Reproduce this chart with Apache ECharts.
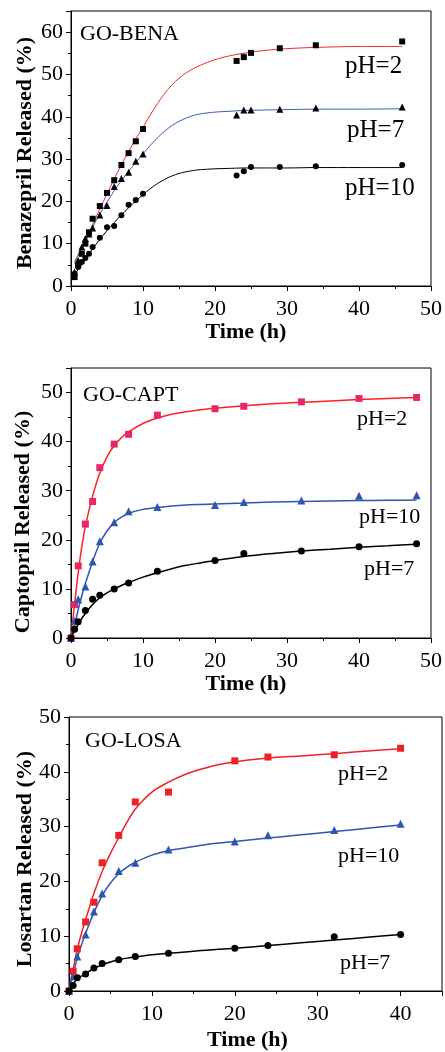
<!DOCTYPE html>
<html>
<head>
<meta charset="utf-8">
<script src="https://cdn.jsdelivr.net/npm/echarts@6/dist/echarts.min.js"></script>
<style>
html,body{margin:0;padding:0;background:#fff;}
#chart{width:445px;height:1052px;}
</style>
</head>
<body>
<div id="chart"></div>
<script>
// ---------- Panel 1: GO-BENA ----------
const benaTime = [0.5, 1, 1.5, 2, 2.5, 3, 4, 5, 6, 7, 8, 9, 10, 23, 24, 25, 29, 34, 46];
const benaPH2  = [2.1, 5.0, 7.6, 10.0, 12.7, 15.9, 18.9, 22.0, 25.0, 28.6, 31.4, 34.2, 37.1, 53.2, 54.1, 55.1, 56.2, 56.9, 57.8];
const benaPH7  = [3.3, 6.0, 9.2, 11.2, 12.3, 13.7, 16.8, 19.0, 23.5, 25.4, 26.9, 29.5, 31.2, 40.4, 41.6, 41.6, 41.8, 42.1, 42.3];
const benaPH10 = [2.9, 4.5, 5.7, 6.6, 7.6, 9.2, 11.4, 13.9, 14.2, 16.7, 19.2, 20.3, 21.8, 26.1, 27.1, 28.1, 28.1, 28.3, 28.6];
const benaFitTime = [0.5, 1, 2, 3, 4, 5, 6, 7, 8, 9, 10, 11, 12, 13, 14, 15, 16, 17, 18, 20, 22, 24, 27, 30, 34, 40, 46];
const benaFitPH2  = [5.4, 7.2, 10.8, 14.5, 18.2, 21.8, 25.3, 28.7, 31.8, 34.8, 37.5, 40.4, 43.1, 45.5, 47.5, 49.1, 50.4, 51.4, 52.2, 53.5, 54.4, 55.0, 55.7, 56.1, 56.4, 56.6, 56.6];
const benaFitPH7  = [5.8, 7.4, 10.6, 13.9, 17.0, 19.8, 22.5, 24.9, 27.1, 29.2, 31.2, 33.2, 35.0, 36.6, 37.9, 38.9, 39.7, 40.3, 40.7, 41.1, 41.3, 41.5, 41.6, 41.7, 41.8, 41.8, 41.9];
const benaFitPH10 = [2.6, 3.9, 6.3, 8.8, 11.0, 13.1, 15.0, 16.8, 18.5, 20.1, 21.6, 23.0, 24.2, 25.2, 26.0, 26.6, 27.0, 27.3, 27.5, 27.7, 27.8, 27.9, 27.9, 27.9, 28.0, 28.0, 28.0];

// ---------- Panel 2: GO-CAPT ----------
const captTime = [0, 0.5, 1, 2, 3, 4, 6, 8, 12, 20, 24, 32, 40, 48];
const captPH2  = [0, 6.8, 14.7, 23.2, 27.8, 34.7, 39.5, 41.5, 45.4, 46.7, 47.2, 48.1, 48.8, 49.0];
const captPH10 = [0, 3.5, 7.9, 10.5, 15.6, 19.7, 23.6, 25.8, 26.7, 27.1, 27.7, 28.0, 29.0, 29.1];
const captPH7  = [0, 1.8, 3.3, 5.6, 7.9, 8.7, 10.0, 11.2, 13.6, 15.8, 17.2, 17.7, 18.6, 19.2];
const captFitTime = [0, 0.5, 1, 1.5, 2, 3, 4, 5, 6, 7, 8, 10, 12, 14, 16, 18, 20, 24, 28, 32, 36, 40, 44, 48];
const captFitPH2  = [0, 7.0, 13.3, 18.6, 22.8, 28.9, 33.6, 36.9, 39.2, 40.8, 42.0, 43.7, 44.8, 45.6, 46.1, 46.5, 46.8, 47.3, 47.7, 48.0, 48.3, 48.6, 48.8, 49.0];
const captFitPH10 = [0, 2.6, 5.8, 8.6, 11.1, 15.6, 19.3, 21.8, 23.5, 24.6, 25.4, 26.2, 26.6, 26.9, 27.1, 27.2, 27.3, 27.5, 27.7, 27.8, 27.9, 28.0, 28.05, 28.1];
const captFitPH7  = [0, 1.5, 2.8, 4.0, 5.0, 6.8, 8.2, 9.2, 10.0, 10.7, 11.3, 12.4, 13.3, 14.1, 14.8, 15.3, 15.8, 16.6, 17.2, 17.7, 18.1, 18.5, 18.8, 19.1];

// ---------- Panel 3: GO-LOSA ----------
const losaTime = [0, 0.5, 1, 2, 3, 4, 6, 8, 12, 20, 24, 32, 40];
const losaPH2  = [0, 3.6, 7.7, 12.6, 16.2, 23.4, 28.4, 34.5, 36.3, 42.0, 42.7, 43.1, 44.3];
const losaPH10 = [0, 2.7, 6.3, 10.3, 14.5, 17.8, 21.9, 23.4, 25.8, 27.3, 28.4, 29.4, 30.5];
const losaPH7  = [0, 1.0, 2.4, 3.1, 4.2, 5.0, 5.7, 6.3, 6.9, 7.8, 8.3, 9.9, 10.3];
const losaFitTime = [0, 0.5, 1, 1.5, 2, 3, 4, 5, 6, 7, 8, 10, 12, 14, 16, 18, 20, 24, 28, 32, 36, 40];
const losaFitPH2  = [0, 4.0, 7.6, 10.5, 13.0, 17.8, 21.8, 25.1, 28.0, 30.8, 33.2, 36.3, 38.1, 39.5, 40.5, 41.3, 41.8, 42.5, 42.9, 43.3, 43.8, 44.2];
const losaFitPH10 = [0, 3.0, 6.0, 8.4, 10.5, 14.3, 17.4, 19.7, 21.4, 22.6, 23.5, 24.8, 25.6, 26.1, 26.6, 27.0, 27.3, 27.9, 28.5, 29.1, 29.7, 30.3];
const losaFitPH7  = [0, 1.3, 2.2, 2.7, 3.2, 4.1, 4.8, 5.3, 5.7, 6.0, 6.2, 6.6, 6.9, 7.1, 7.4, 7.6, 7.8, 8.3, 8.8, 9.3, 9.8, 10.3];

// ---------- Axis ranges / labels ----------
const xMax = [50, 50, 45];
const yMax = [65, 55, 50];
const xTitle = 'Time (h)';
const yTitles = ['Benazepril Released (%)', 'Captopril Released (%)', 'Losartan Released (%)'];
const panelNames = ['GO-BENA', 'GO-CAPT', 'GO-LOSA'];
const phLabels = ['pH=2', 'pH=7', 'pH=10'];

const SERIF = '"Liberation Serif", "Times New Roman", serif';
const zip = (a, b) => a.map((v, i) => [v, b[i]]);

const grids = [
  {left: 71, top: 11, width: 372, height: 275},
  {left: 71, top: 368, width: 366, height: 270},
  {left: 69, top: 717, width: 374, height: 276}
];

const xAxes = [], yAxes = [];
const xPad = [[0, 10, 0, 0], [0, 10, 0, 0], [0, 16, 0, 0]];
const yPad = [[0, 9, 0, 0], [0, 38, 0, 0], [0, 10, 0, 0]];
const xGap = [32, 33, 38];
const yGap = [35, 37, 33];
grids.forEach((g, i) => {
  xAxes.push({
    type: 'value', gridIndex: i, position: 'bottom', min: 0, max: xMax[i], interval: 10,
    name: xTitle, nameLocation: 'middle', nameGap: xGap[i],
    nameTextStyle: {fontFamily: SERIF, fontWeight: 'bold', fontSize: 22, color: '#000', padding: xPad[i]},
    axisLine: {show: true, onZero: false, lineStyle: {color: '#000', width: 1}},
    axisTick: {show: true, inside: false, length: 5, lineStyle: {color: '#000'}},
    axisLabel: {fontFamily: SERIF, fontSize: 22, color: '#000', margin: 12,
      formatter: v => (v % 10 === 0 ? String(v) : '')},
    splitLine: {show: false}
  });
  xAxes.push({
    type: 'value', gridIndex: i, position: 'bottom', min: 0, max: xMax[i], interval: 5,
    axisLine: {show: false, onZero: false},
    axisTick: {show: true, inside: false, length: 3, lineStyle: {color: '#000'}},
    axisLabel: {show: false}, splitLine: {show: false}
  });
  yAxes.push({
    type: 'value', gridIndex: i, position: 'left', min: 0, max: yMax[i], interval: 10,
    name: yTitles[i], nameLocation: 'middle', nameGap: yGap[i], nameRotate: 90,
    nameMoveOverlap: false,
    nameTextStyle: {fontFamily: SERIF, fontWeight: 'bold', fontSize: 22, color: '#000', padding: yPad[i]},
    axisLine: {show: true, onZero: false, lineStyle: {color: '#000', width: 1}},
    axisTick: {show: true, inside: false, length: 5, lineStyle: {color: '#000'}},
    axisLabel: {fontFamily: SERIF, fontSize: 22, color: '#000', margin: 8,
      formatter: v => (v % 10 === 0 ? String(v) : '')},
    splitLine: {show: false}
  });
  yAxes.push({
    type: 'value', gridIndex: i, position: 'left', min: 0, max: yMax[i], interval: 5,
    axisLine: {show: false, onZero: false},
    axisTick: {show: true, inside: false, length: 3, lineStyle: {color: '#000'}},
    axisLabel: {show: false}, splitLine: {show: false}
  });
});

function fitLine(i, xs, ys, color, w) {
  return {type: 'line', xAxisIndex: 2 * i, yAxisIndex: 2 * i, data: zip(xs, ys),
    showSymbol: false, smooth: 0.3, z: 2, silent: true,
    lineStyle: {color: color, width: w}};
}
function marks(i, xs, ys, symbol, size, color) {
  return {type: 'scatter', xAxisIndex: 2 * i, yAxisIndex: 2 * i, data: zip(xs, ys),
    symbol: symbol, symbolSize: size, z: 3, itemStyle: {color: color, opacity: 1}};
}

const RED = '#f0282d', BLUE = '#3c5ab4', PINK = '#e8266e', BLUE2 = '#2f55b0', RED3 = '#ec2227';
const series = [
  fitLine(0, benaFitTime, benaFitPH2, RED, 1),
  fitLine(0, benaFitTime, benaFitPH7, BLUE, 1),
  fitLine(0, benaFitTime, benaFitPH10, '#000', 1),
  marks(0, benaTime, benaPH2, 'rect', 6, '#000'),
  marks(0, benaTime, benaPH7, 'triangle', 7, '#000'),
  marks(0, benaTime, benaPH10, 'circle', 6, '#000'),

  fitLine(1, captFitTime, captFitPH2, '#ff2020', 1.5),
  fitLine(1, captFitTime, captFitPH10, BLUE2, 1.5),
  fitLine(1, captFitTime, captFitPH7, '#000', 1.5),
  marks(1, captTime, captPH2, 'rect', 7, PINK),
  marks(1, captTime, captPH10, 'triangle', 8, BLUE2),
  marks(1, captTime, captPH7, 'circle', 7, '#000'),

  fitLine(2, losaFitTime, losaFitPH2, RED3, 1.5),
  fitLine(2, losaFitTime, losaFitPH10, BLUE2, 1.5),
  fitLine(2, losaFitTime, losaFitPH7, '#000', 1.5),
  marks(2, losaTime, losaPH2, 'rect', 7, RED3),
  marks(2, losaTime, losaPH10, 'triangle', 8, BLUE2),
  marks(2, losaTime, losaPH7, 'circle', 7, '#000')
];

function txt(s, x, y, size) {
  return {type: 'text', left: x, top: y - size / 2, z: 10,
    style: {text: s, font: size + 'px ' + SERIF, fill: '#000'}};
}
const graphics = [
  txt(panelNames[0], 80, 34, 22),
  txt(phLabels[0], 345, 66, 25),
  txt(phLabels[1], 347, 130, 25),
  txt(phLabels[2], 345, 188, 25),
  txt(panelNames[1], 83, 395, 22),
  txt(phLabels[0], 357, 419, 22),
  txt(phLabels[2], 359, 517, 22),
  txt(phLabels[1], 364, 569, 22),
  txt(panelNames[2], 85, 741, 22),
  txt(phLabels[0], 338, 774, 22),
  txt(phLabels[2], 338, 856, 22),
  txt(phLabels[1], 340, 963, 22)
];

const chart = echarts.init(document.getElementById('chart'), null, {renderer: 'canvas'});
chart.setOption({
  animation: false,
  backgroundColor: '#fff',
  grid: grids.map(g => Object.assign({show: true, borderColor: '#000', borderWidth: 1, backgroundColor: 'transparent'}, g)),
  xAxis: xAxes,
  yAxis: yAxes,
  series: series,
  graphic: graphics
});
</script>
</body>
</html>
